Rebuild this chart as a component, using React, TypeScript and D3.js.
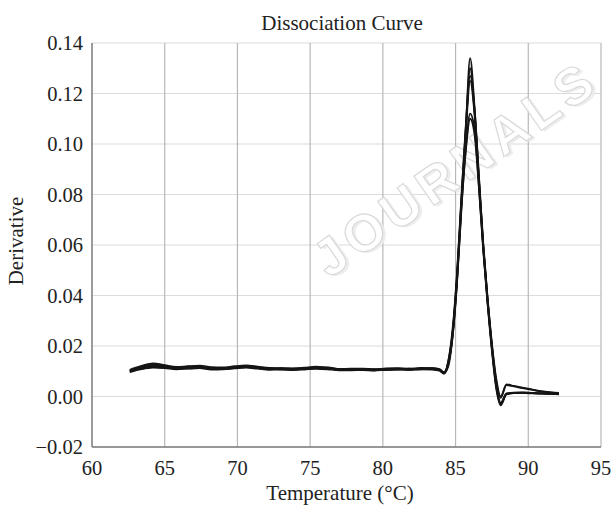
import React from "react";
import * as d3 from "d3";

const temps = [
  62.6, 63.4, 64.2, 65, 65.8, 66.6, 67.4, 68.2, 69, 69.8, 70.6, 71.4, 72.2, 73, 73.8, 74.6, 75.4, 76.2, 77, 77.8,
  78.6, 79.4, 80.2, 81, 81.8, 82.6, 83.4, 83.9, 84.2,
  84.5, 84.8, 85.1, 85.4, 85.7, 86.0, 86.3, 86.6, 86.9, 87.2, 87.5, 87.8, 88.1, 88.5, 89.0, 89.6, 90.3, 91.0, 91.6, 92.1,
];

const series1 = [
  0.0100, 0.0118, 0.0128, 0.0122, 0.0114, 0.0118, 0.0120, 0.0113, 0.0112, 0.0117, 0.0121, 0.0116, 0.0111, 0.0110, 0.0108, 0.0112, 0.0116, 0.0112, 0.0106, 0.0108,
  0.0107, 0.0105, 0.0109, 0.0110, 0.0108, 0.0111, 0.0110, 0.0106, 0.0094,
  0.014, 0.026, 0.048, 0.078, 0.106, 0.134, 0.115, 0.087, 0.060, 0.038, 0.019, 0.004, -0.003, 0.0010, 0.0014, 0.0015, 0.0013, 0.0012, 0.0011, 0.0010,
];
const series2 = [
  0.0104, 0.0112, 0.0120, 0.0118, 0.0111, 0.0113, 0.0116, 0.0110, 0.0113, 0.0114, 0.0118, 0.0112, 0.0108, 0.0112, 0.0110, 0.0109, 0.0113, 0.0115, 0.0109, 0.0106,
  0.0109, 0.0107, 0.0106, 0.0108, 0.0110, 0.0108, 0.0112, 0.0104, 0.0092,
  0.013, 0.025, 0.047, 0.077, 0.105, 0.130, 0.113, 0.086, 0.059, 0.037, 0.018, 0.003, -0.0035, 0.0008, 0.0013, 0.0014, 0.0013, 0.0012, 0.0010, 0.0009,
];
const series3 = [
  0.0096, 0.0108, 0.0114, 0.0112, 0.0108, 0.0110, 0.0112, 0.0107, 0.0108, 0.0111, 0.0114, 0.0110, 0.0106, 0.0107, 0.0105, 0.0107, 0.0110, 0.0108, 0.0104, 0.0104,
  0.0105, 0.0103, 0.0106, 0.0107, 0.0106, 0.0108, 0.0107, 0.0102, 0.0090,
  0.014, 0.027, 0.049, 0.079, 0.107, 0.127, 0.114, 0.088, 0.061, 0.039, 0.020, 0.005, -0.0025, 0.0012, 0.0015, 0.0016, 0.0014, 0.0012, 0.0011, 0.0010,
];
const series4 = [
  0.0106, 0.0121, 0.0131, 0.0124, 0.0117, 0.0120, 0.0122, 0.0116, 0.0115, 0.0120, 0.0123, 0.0118, 0.0113, 0.0112, 0.0111, 0.0114, 0.0118, 0.0114, 0.0108, 0.0110,
  0.0110, 0.0108, 0.0111, 0.0112, 0.0110, 0.0113, 0.0112, 0.0108, 0.0097,
  0.013, 0.025, 0.046, 0.076, 0.104, 0.125, 0.112, 0.086, 0.060, 0.039, 0.021, 0.007, 0.000, 0.0048, 0.0042, 0.0035, 0.0027, 0.0020, 0.0016, 0.0014,
];
const series5 = [
  0.0102, 0.0110, 0.0117, 0.0115, 0.0112, 0.0111, 0.0114, 0.0111, 0.0110, 0.0113, 0.0116, 0.0113, 0.0110, 0.0109, 0.0107, 0.0110, 0.0112, 0.0110, 0.0107, 0.0107,
  0.0106, 0.0106, 0.0108, 0.0109, 0.0107, 0.0110, 0.0109, 0.0105, 0.0093,
  0.013, 0.024, 0.045, 0.074, 0.098, 0.112, 0.106, 0.084, 0.059, 0.038, 0.020, 0.006, -0.0005, 0.0045, 0.0040, 0.0033, 0.0026, 0.0019, 0.0015, 0.0013,
];
const series6 = [
  0.0098, 0.0114, 0.0123, 0.0119, 0.0110, 0.0115, 0.0117, 0.0112, 0.0110, 0.0115, 0.0119, 0.0114, 0.0109, 0.0108, 0.0106, 0.0110, 0.0114, 0.0111, 0.0105, 0.0107,
  0.0106, 0.0104, 0.0107, 0.0108, 0.0107, 0.0109, 0.0109, 0.0105, 0.0093,
  0.012, 0.024, 0.046, 0.075, 0.097, 0.110, 0.104, 0.083, 0.058, 0.037, 0.019, 0.004, -0.003, 0.0009, 0.0013, 0.0014, 0.0012, 0.0011, 0.0010, 0.0009,
];

const allSeries = [series1, series2, series3, series4, series5, series6];

const xTicks = [60, 65, 70, 75, 80, 85, 90, 95];
const yTicks = [-0.02, 0, 0.02, 0.04, 0.06, 0.08, 0.1, 0.12, 0.14];

const title = "Dissociation Curve";
const xLabel = "Temperature (°C)";
const yLabel = "Derivative";
const watermark = "JOURNALS";

const W = 611;
const H = 509;
const left = 92;
const right = 601;
const top = 43;
const bottom = 447;
const FONT = "'Liberation Serif', 'Times New Roman', serif";

export default function App() {
  const x = d3.scaleLinear().domain([60, 95]).range([left, right]);
  const y = d3.scaleLinear().domain([-0.02, 0.14]).range([bottom, top]);
  const line = d3
    .line<number>()
    .x((_, i) => x(temps[i]))
    .y((d) => y(d))
    .curve(d3.curveMonotoneX);

  const fmtY = (v: number) => (v < 0 ? "\u2212" : "") + Math.abs(v).toFixed(2);

  return (
    <svg
      width={W}
      height={H}
      style={{ position: "absolute", left: 0, top: 0, background: "#fff" }}
      fontFamily={FONT}
    >
      <rect x={0} y={0} width={W} height={H} fill="#fff" />
      {yTicks.map((t) => (
        <line key={"h" + t} x1={left} x2={right} y1={y(t)} y2={y(t)} stroke="#dcdcdc" strokeWidth={1.2} />
      ))}
      {xTicks.slice(1).map((t) => (
        <line key={"v" + t} x1={x(t)} x2={x(t)} y1={top} y2={bottom} stroke="#b8b8b8" strokeWidth={1.2} />
      ))}
      <g transform="translate(458,172) rotate(-35)" opacity={0.9}>
        <text
          x={2}
          y={3}
          textAnchor="middle"
          fontFamily="'Liberation Sans', Arial, sans-serif"
          fontWeight="bold"
          fontSize={52}
          letterSpacing={6}
          fill="#ececec"
          dominantBaseline="middle"
        >
          {watermark}
        </text>
        <text
          x={0}
          y={0}
          textAnchor="middle"
          fontFamily="'Liberation Sans', Arial, sans-serif"
          fontWeight="bold"
          fontSize={52}
          letterSpacing={6}
          fill="#fff"
          stroke="#d6d6d6"
          strokeWidth={1.2}
          dominantBaseline="middle"
        >
          {watermark}
        </text>
      </g>
      {allSeries.map((s, i) => (
        <path key={i} d={line(s) || ""} fill="none" stroke="#151515" strokeWidth={1.8} strokeLinejoin="round" />
      ))}
      <line x1={left} x2={left} y1={top} y2={bottom} stroke="#7a7a7a" strokeWidth={1.5} />
      <line x1={left} x2={right} y1={bottom} y2={bottom} stroke="#7a7a7a" strokeWidth={1.5} />
      {yTicks.map((t) => (
        <text key={"yl" + t} x={83} y={y(t) + 7} textAnchor="end" fontSize={20.5} fill="#222">
          {fmtY(t)}
        </text>
      ))}
      {xTicks.map((t) => (
        <text key={"xl" + t} x={x(t)} y={475} textAnchor="middle" fontSize={20.5} fill="#222">
          {t}
        </text>
      ))}
      <text x={342} y={30} textAnchor="middle" fontSize={21} fill="#222">
        {title}
      </text>
      <text x={340} y={500} textAnchor="middle" fontSize={21} fill="#222">
        {xLabel}
      </text>
      <text transform={`translate(23,241) rotate(-90)`} textAnchor="middle" fontSize={21} fill="#222">
        {yLabel}
      </text>
    </svg>
  );
}
